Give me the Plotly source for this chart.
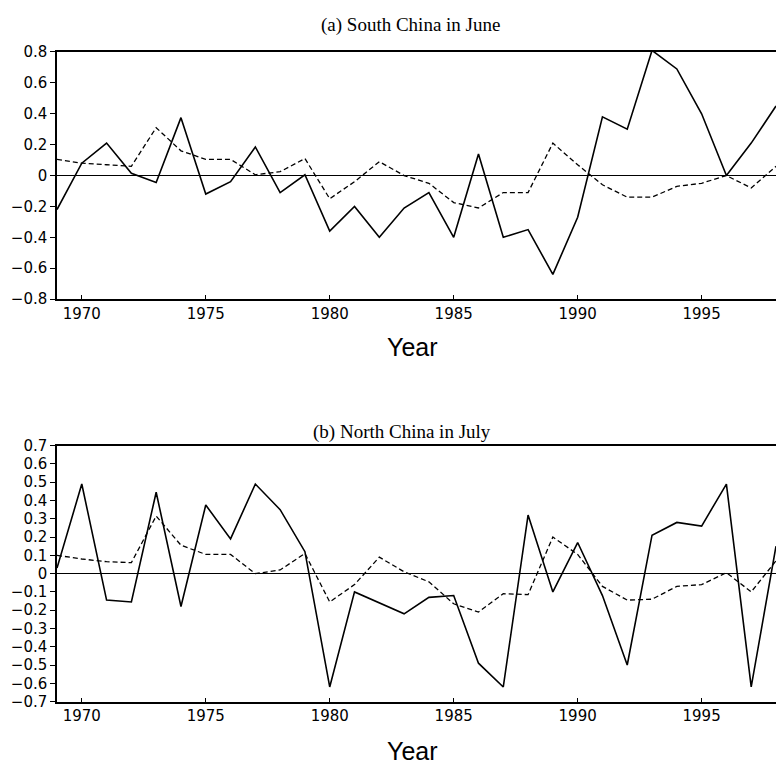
import plotly.graph_objects as go

years = list(range(1969, 1999))

south_june_obs = [-0.22, 0.08, 0.21, 0.015, -0.045, 0.375, -0.12, -0.04, 0.185, -0.11,
                  0.005, -0.36, -0.20, -0.40, -0.21, -0.11, -0.40, 0.14, -0.40, -0.35,
                  -0.64, -0.27, 0.38, 0.30, 0.81, 0.69, 0.40, 0.0, 0.21, 0.45]
south_june_idx = [0.105, 0.08, 0.07, 0.06, 0.31, 0.16, 0.105, 0.105, 0.005, 0.025,
                  0.11, -0.15, -0.04, 0.09, 0.0, -0.05, -0.175, -0.21, -0.11, -0.11,
                  0.21, 0.07, -0.06, -0.14, -0.14, -0.07, -0.05, 0.0, -0.08, 0.06]

north_july_obs = [0.03, 0.49, -0.145, -0.155, 0.445, -0.18, 0.375, 0.19, 0.49, 0.35,
                  0.12, -0.62, -0.10, -0.16, -0.22, -0.13, -0.12, -0.49, -0.62, 0.32,
                  -0.10, 0.17, -0.12, -0.50, 0.21, 0.28, 0.26, 0.49, -0.62, 0.15]
north_july_idx = [0.10, 0.08, 0.065, 0.06, 0.315, 0.155, 0.105, 0.105, 0.0, 0.02,
                  0.11, -0.155, -0.06, 0.09, 0.01, -0.045, -0.165, -0.21, -0.11, -0.115,
                  0.20, 0.105, -0.07, -0.145, -0.14, -0.07, -0.06, 0.005, -0.10, 0.07]

x_ticks = [1970, 1975, 1980, 1985, 1990, 1995]
titles = ["(a) South China in June", "(b) North China in July"]

W, H = 776, 777
fig = go.Figure()

solid = dict(color="black", width=1.6)
dashed = dict(color="black", width=1.3, dash="5px,3px")

fig.add_trace(go.Scatter(x=years, y=south_june_obs, mode="lines", line=solid,
                         xaxis="x", yaxis="y", showlegend=False))
fig.add_trace(go.Scatter(x=years, y=south_june_idx, mode="lines", line=dashed,
                         xaxis="x", yaxis="y", showlegend=False))
fig.add_trace(go.Scatter(x=years, y=north_july_obs, mode="lines", line=solid,
                         xaxis="x2", yaxis="y2", showlegend=False))
fig.add_trace(go.Scatter(x=years, y=north_july_idx, mode="lines", line=dashed,
                         xaxis="x2", yaxis="y2", showlegend=False))

tick_font = dict(family="DejaVu Sans, sans-serif", size=15, color="black")

def xaxis(anchor):
    return dict(range=[1969, 1998], tickvals=x_ticks, ticks="inside", ticklen=4,
                tickcolor="black", showline=True, linecolor="black", linewidth=1.5,
                mirror=True, showgrid=False, zeroline=False, tickfont=tick_font,
                anchor=anchor, domain=[0, 1])

def yaxis(anchor, rng, dtick, dom):
    return dict(range=rng, dtick=dtick, tick0=0, ticks="outside", ticklen=5,
                tickcolor="black", showline=True, linecolor="black", linewidth=1.5,
                showgrid=False, zeroline=True, zerolinecolor="black", zerolinewidth=1.3,
                tickfont=tick_font, anchor=anchor, domain=dom)

def dom(top_px, bot_px):
    return [1 - bot_px / H, 1 - top_px / H]

fig.update_layout(
    width=W, height=H,
    margin=dict(l=57, r=0, t=0, b=0),
    paper_bgcolor="white", plot_bgcolor="white",
    xaxis=xaxis("y"),
    yaxis=yaxis("x", [-0.8, 0.8], 0.2, dom(44, 297)),
    xaxis2=xaxis("y2"),
    yaxis2=yaxis("x2", [-0.7, 0.7], 0.1, dom(447, 709)),
)

def px_x(px):
    return (px - 57) / (W - 57)

def px_y(py):
    return 1 - py / H

title_font = dict(family="Liberation Serif, Times New Roman, serif", size=19, color="black")
year_font = dict(family="Liberation Sans, Arial, sans-serif", size=25, color="black")

annotations = [
    dict(text=titles[0], x=px_x(410), y=px_y(16), xref="paper", yref="paper",
         showarrow=False, font=title_font, xanchor="center", yanchor="middle"),
    dict(text=titles[1], x=px_x(402), y=px_y(433), xref="paper", yref="paper",
         showarrow=False, font=title_font, xanchor="center", yanchor="middle"),
    dict(text="Year", x=px_x(412), y=px_y(346), xref="paper", yref="paper",
         showarrow=False, font=year_font, xanchor="center", yanchor="middle"),
    dict(text="Year", x=px_x(412), y=px_y(760), xref="paper", yref="paper",
         showarrow=False, font=year_font, xanchor="center", yanchor="middle"),
]
fig.update_layout(annotations=annotations)

fig.write_html("out.html", config={"displayModeBar": False})

with open("out.html", "r", encoding="utf-8") as f:
    html = f.read()
html = html.replace("<head>", "<head><style>html,body{margin:0;padding:0;overflow:hidden;}</style>", 1)
with open("out.html", "w", encoding="utf-8") as f:
    f.write(html)
